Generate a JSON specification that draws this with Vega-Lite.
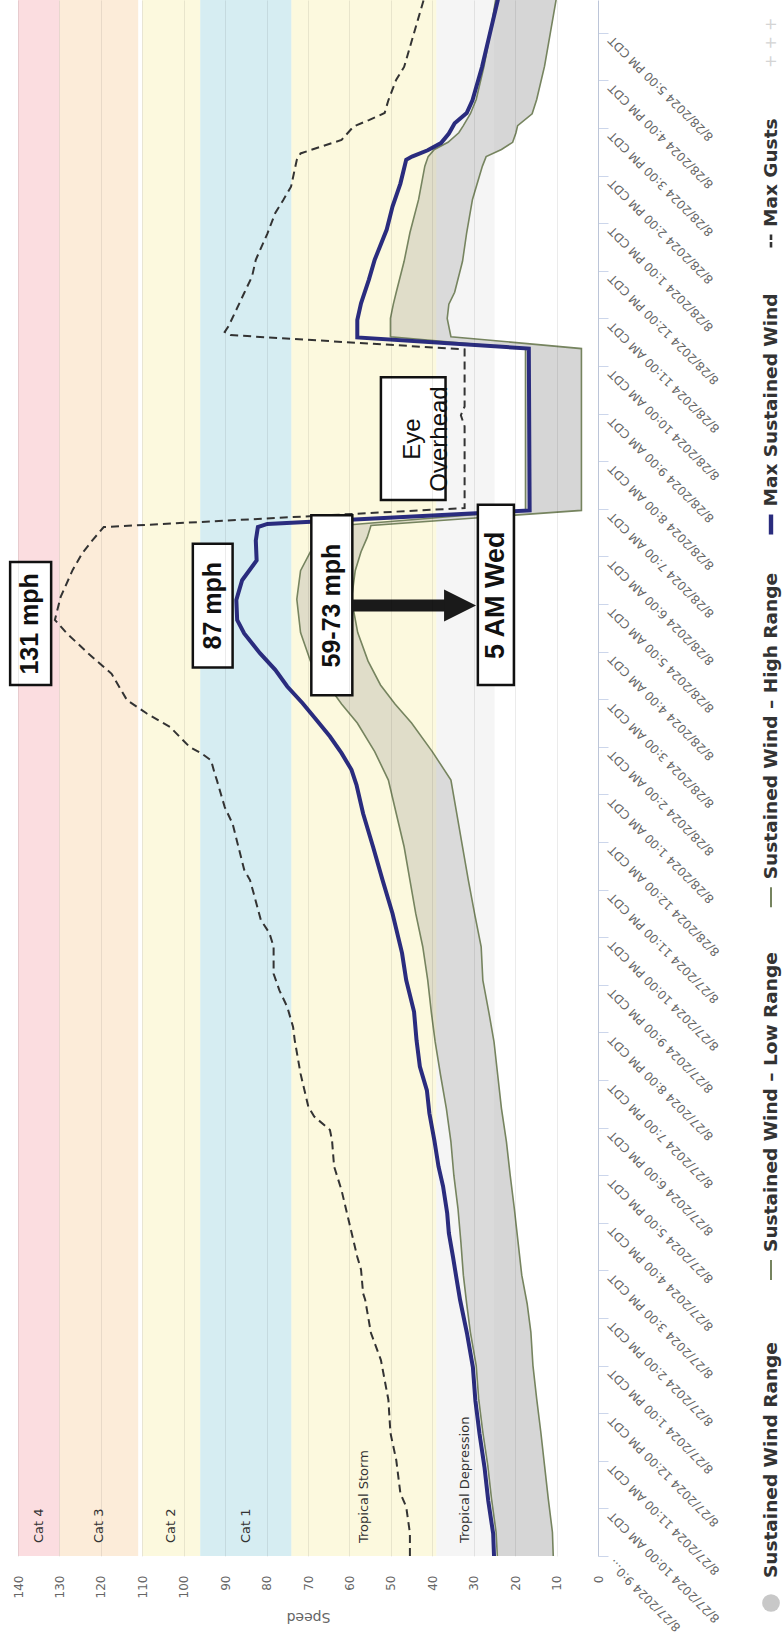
{
  "$schema": "https://vega.github.io/schema/vega-lite/v6.json",
  "width": 580,
  "height": 1556,
  "autosize": {"type": "none"},
  "padding": {"left": 18, "top": 0, "right": 185, "bottom": 79},
  "config": {"view": {"stroke": null}, "axisX": {"tickCount": 28, "labelOverlap": false}},
  "datasets": {
    "bands": [
      {"band": "Cat 4", "lo": 130, "hi": 140},
      {"band": "Cat 3", "lo": 111, "hi": 130},
      {"band": "Cat 2", "lo": 96, "hi": 110},
      {"band": "Cat 1", "lo": 74, "hi": 96},
      {"band": "Tropical Storm", "lo": 39, "hi": 74},
      {"band": "Tropical Depression", "lo": 25, "hi": 39}
    ],
    "navy": [
      {"t": "2024-08-27T09:00-05:00", "v": 25.1}, {"t": "2024-08-27T09:28-05:00", "v": 25.3},
      {"t": "2024-08-27T10:10-05:00", "v": 26.5}, {"t": "2024-08-27T10:52-05:00", "v": 27.4},
      {"t": "2024-08-27T11:34-05:00", "v": 28.6}, {"t": "2024-08-27T12:16-05:00", "v": 29.6},
      {"t": "2024-08-27T12:58-05:00", "v": 30.2}, {"t": "2024-08-27T13:40-05:00", "v": 31.6},
      {"t": "2024-08-27T14:23-05:00", "v": 33.3}, {"t": "2024-08-27T14:48-05:00", "v": 34.1},
      {"t": "2024-08-27T15:17-05:00", "v": 35.0}, {"t": "2024-08-27T15:47-05:00", "v": 36.0},
      {"t": "2024-08-27T16:12-05:00", "v": 36.4}, {"t": "2024-08-27T16:46-05:00", "v": 37.4},
      {"t": "2024-08-27T17:11-05:00", "v": 38.5}, {"t": "2024-08-27T17:44-05:00", "v": 39.5},
      {"t": "2024-08-27T18:18-05:00", "v": 40.7}, {"t": "2024-08-27T18:47-05:00", "v": 41.3},
      {"t": "2024-08-27T19:17-05:00", "v": 43.0}, {"t": "2024-08-27T19:50-05:00", "v": 43.8},
      {"t": "2024-08-27T20:26-05:00", "v": 44.4}, {"t": "2024-08-27T21:06-05:00", "v": 46.3},
      {"t": "2024-08-27T21:40-05:00", "v": 47.3}, {"t": "2024-08-27T22:30-05:00", "v": 49.6},
      {"t": "2024-08-27T23:12-05:00", "v": 52.0}, {"t": "2024-08-27T23:54-05:00", "v": 54.3},
      {"t": "2024-08-28T00:36-05:00", "v": 56.7}, {"t": "2024-08-28T01:12-05:00", "v": 58.3},
      {"t": "2024-08-28T01:31-05:00", "v": 59.5}, {"t": "2024-08-28T01:52-05:00", "v": 61.9},
      {"t": "2024-08-28T02:13-05:00", "v": 64.7}, {"t": "2024-08-28T02:34-05:00", "v": 68.0},
      {"t": "2024-08-28T02:55-05:00", "v": 71.3}, {"t": "2024-08-28T03:16-05:00", "v": 75.0},
      {"t": "2024-08-28T03:37-05:00", "v": 77.9}, {"t": "2024-08-28T03:58-05:00", "v": 81.6},
      {"t": "2024-08-28T04:23-05:00", "v": 85.4}, {"t": "2024-08-28T04:40-05:00", "v": 87.1},
      {"t": "2024-08-28T05:05-05:00", "v": 87.3}, {"t": "2024-08-28T05:30-05:00", "v": 85.9},
      {"t": "2024-08-28T05:55-05:00", "v": 82.4}, {"t": "2024-08-28T06:20-05:00", "v": 82.6},
      {"t": "2024-08-28T06:37-05:00", "v": 82.1}, {"t": "2024-08-28T06:41-05:00", "v": 79.8},
      {"t": "2024-08-28T06:58-05:00", "v": 16.5}, {"t": "2024-08-28T10:22-05:00", "v": 16.7},
      {"t": "2024-08-28T10:36-05:00", "v": 58.1}, {"t": "2024-08-28T10:58-05:00", "v": 58.1},
      {"t": "2024-08-28T11:19-05:00", "v": 57.2}, {"t": "2024-08-28T11:49-05:00", "v": 55.3},
      {"t": "2024-08-28T12:14-05:00", "v": 53.9}, {"t": "2024-08-28T12:52-05:00", "v": 51.0},
      {"t": "2024-08-28T13:21-05:00", "v": 49.6}, {"t": "2024-08-28T13:50-05:00", "v": 47.7},
      {"t": "2024-08-28T14:20-05:00", "v": 46.3}, {"t": "2024-08-28T14:24-05:00", "v": 44.9},
      {"t": "2024-08-28T14:32-05:00", "v": 41.1}, {"t": "2024-08-28T14:41-05:00", "v": 37.9},
      {"t": "2024-08-28T14:53-05:00", "v": 36.0}, {"t": "2024-08-28T15:06-05:00", "v": 34.6},
      {"t": "2024-08-28T15:19-05:00", "v": 31.7}, {"t": "2024-08-28T15:35-05:00", "v": 30.3},
      {"t": "2024-08-28T16:17-05:00", "v": 28.0}, {"t": "2024-08-28T16:59-05:00", "v": 26.1},
      {"t": "2024-08-28T17:41-05:00", "v": 24.2}, {"t": "2024-08-28T18:30-05:00", "v": 22.5}
    ],
    "gust": [
      {"t": "2024-08-27T09:00-05:00", "v": 45.4}, {"t": "2024-08-27T09:29-05:00", "v": 45.4},
      {"t": "2024-08-27T10:02-05:00", "v": 46.3}, {"t": "2024-08-27T10:19-05:00", "v": 47.7},
      {"t": "2024-08-27T11:01-05:00", "v": 48.7}, {"t": "2024-08-27T11:35-05:00", "v": 50.1},
      {"t": "2024-08-27T12:17-05:00", "v": 50.6}, {"t": "2024-08-27T13:07-05:00", "v": 52.4},
      {"t": "2024-08-27T13:41-05:00", "v": 54.8}, {"t": "2024-08-27T14:23-05:00", "v": 56.2},
      {"t": "2024-08-27T14:31-05:00", "v": 56.7}, {"t": "2024-08-27T15:01-05:00", "v": 57.2},
      {"t": "2024-08-27T15:17-05:00", "v": 58.1}, {"t": "2024-08-27T15:59-05:00", "v": 60.0},
      {"t": "2024-08-27T16:41-05:00", "v": 61.9}, {"t": "2024-08-27T17:11-05:00", "v": 63.7},
      {"t": "2024-08-27T17:44-05:00", "v": 64.2}, {"t": "2024-08-27T17:57-05:00", "v": 64.7},
      {"t": "2024-08-27T18:14-05:00", "v": 68.5}, {"t": "2024-08-27T18:26-05:00", "v": 69.9},
      {"t": "2024-08-27T19:08-05:00", "v": 71.8}, {"t": "2024-08-27T19:50-05:00", "v": 73.2},
      {"t": "2024-08-27T20:07-05:00", "v": 73.6}, {"t": "2024-08-27T20:32-05:00", "v": 75.0},
      {"t": "2024-08-27T20:53-05:00", "v": 76.9}, {"t": "2024-08-27T21:14-05:00", "v": 78.3},
      {"t": "2024-08-27T21:48-05:00", "v": 78.3}, {"t": "2024-08-27T22:05-05:00", "v": 79.3},
      {"t": "2024-08-27T22:22-05:00", "v": 81.4}, {"t": "2024-08-27T22:55-05:00", "v": 83.1},
      {"t": "2024-08-27T23:12-05:00", "v": 84.0}, {"t": "2024-08-27T23:25-05:00", "v": 85.4},
      {"t": "2024-08-27T23:54-05:00", "v": 86.8}, {"t": "2024-08-28T00:23-05:00", "v": 88.2},
      {"t": "2024-08-28T00:44-05:00", "v": 90.1}, {"t": "2024-08-28T01:18-05:00", "v": 92.0},
      {"t": "2024-08-28T01:26-05:00", "v": 92.5}, {"t": "2024-08-28T01:43-05:00", "v": 93.4},
      {"t": "2024-08-28T01:52-05:00", "v": 95.8}, {"t": "2024-08-28T02:00-05:00", "v": 98.6},
      {"t": "2024-08-28T02:25-05:00", "v": 103.3}, {"t": "2024-08-28T02:42-05:00", "v": 108.9},
      {"t": "2024-08-28T02:59-05:00", "v": 113.7}, {"t": "2024-08-28T03:32-05:00", "v": 117.4},
      {"t": "2024-08-28T03:58-05:00", "v": 123.1}, {"t": "2024-08-28T04:23-05:00", "v": 128.2},
      {"t": "2024-08-28T04:40-05:00", "v": 131.1}, {"t": "2024-08-28T05:09-05:00", "v": 129.7},
      {"t": "2024-08-28T05:43-05:00", "v": 126.8}, {"t": "2024-08-28T06:04-05:00", "v": 124.5},
      {"t": "2024-08-28T06:20-05:00", "v": 122.1}, {"t": "2024-08-28T06:37-05:00", "v": 119.3},
      {"t": "2024-08-28T07:01-05:00", "v": 32.2}, {"t": "2024-08-28T08:44-05:00", "v": 32.2},
      {"t": "2024-08-28T08:58-05:00", "v": 33.1}, {"t": "2024-08-28T09:09-05:00", "v": 32.2},
      {"t": "2024-08-28T10:21-05:00", "v": 32.2}, {"t": "2024-08-28T10:39-05:00", "v": 88.7},
      {"t": "2024-08-28T10:43-05:00", "v": 90.1}, {"t": "2024-08-28T10:50-05:00", "v": 89.2},
      {"t": "2024-08-28T11:11-05:00", "v": 87.3}, {"t": "2024-08-28T11:32-05:00", "v": 85.4},
      {"t": "2024-08-28T11:53-05:00", "v": 83.5}, {"t": "2024-08-28T12:14-05:00", "v": 82.6},
      {"t": "2024-08-28T12:47-05:00", "v": 79.8}, {"t": "2024-08-28T13:13-05:00", "v": 77.9},
      {"t": "2024-08-28T13:29-05:00", "v": 76.0}, {"t": "2024-08-28T13:46-05:00", "v": 74.1},
      {"t": "2024-08-28T14:20-05:00", "v": 72.7}, {"t": "2024-08-28T14:28-05:00", "v": 71.8},
      {"t": "2024-08-28T14:37-05:00", "v": 66.6}, {"t": "2024-08-28T14:45-05:00", "v": 61.9},
      {"t": "2024-08-28T15:02-05:00", "v": 59.0}, {"t": "2024-08-28T15:10-05:00", "v": 55.3},
      {"t": "2024-08-28T15:19-05:00", "v": 51.5}, {"t": "2024-08-28T15:35-05:00", "v": 50.6},
      {"t": "2024-08-28T16:01-05:00", "v": 48.7}, {"t": "2024-08-28T16:17-05:00", "v": 46.8},
      {"t": "2024-08-28T16:51-05:00", "v": 44.9}, {"t": "2024-08-28T17:16-05:00", "v": 43.5},
      {"t": "2024-08-28T17:41-05:00", "v": 42.1}, {"t": "2024-08-28T18:30-05:00", "v": 40.5}
    ],
    "range": [
      {"t": "2024-08-27T09:00-05:00", "hi": 24.3, "lo": 10.8}, {"t": "2024-08-27T09:30-05:00", "hi": 24.6, "lo": 11.0},
      {"t": "2024-08-27T10:12-05:00", "hi": 25.7, "lo": 12.0}, {"t": "2024-08-27T10:54-05:00", "hi": 26.6, "lo": 12.9},
      {"t": "2024-08-27T11:36-05:00", "hi": 27.8, "lo": 13.8}, {"t": "2024-08-27T12:18-05:00", "hi": 28.8, "lo": 14.8},
      {"t": "2024-08-27T13:00-05:00", "hi": 29.4, "lo": 15.7}, {"t": "2024-08-27T13:42-05:00", "hi": 30.8, "lo": 16.2},
      {"t": "2024-08-27T14:18-05:00", "hi": 31.7, "lo": 17.1}, {"t": "2024-08-27T14:54-05:00", "hi": 32.5, "lo": 18.4},
      {"t": "2024-08-27T15:36-05:00", "hi": 33.1, "lo": 19.3}, {"t": "2024-08-27T16:18-05:00", "hi": 33.8, "lo": 20.2},
      {"t": "2024-08-27T17:00-05:00", "hi": 34.8, "lo": 21.2}, {"t": "2024-08-27T17:42-05:00", "hi": 35.5, "lo": 22.1},
      {"t": "2024-08-27T18:24-05:00", "hi": 36.6, "lo": 23.3}, {"t": "2024-08-27T19:06-05:00", "hi": 38.0, "lo": 24.2},
      {"t": "2024-08-27T19:48-05:00", "hi": 39.3, "lo": 25.1}, {"t": "2024-08-27T20:24-05:00", "hi": 40.2, "lo": 26.3},
      {"t": "2024-08-27T21:06-05:00", "hi": 41.1, "lo": 27.8}, {"t": "2024-08-27T21:48-05:00", "hi": 42.3, "lo": 28.2},
      {"t": "2024-08-27T22:30-05:00", "hi": 44.0, "lo": 29.8}, {"t": "2024-08-27T23:12-05:00", "hi": 45.4, "lo": 31.3},
      {"t": "2024-08-27T23:54-05:00", "hi": 46.8, "lo": 32.7}, {"t": "2024-08-28T00:36-05:00", "hi": 48.7, "lo": 34.1},
      {"t": "2024-08-28T01:18-05:00", "hi": 50.6, "lo": 35.5}, {"t": "2024-08-28T01:54-05:00", "hi": 53.9, "lo": 40.0},
      {"t": "2024-08-28T02:30-05:00", "hi": 58.1, "lo": 45.0}, {"t": "2024-08-28T02:54-05:00", "hi": 61.9, "lo": 49.0},
      {"t": "2024-08-28T03:18-05:00", "hi": 65.2, "lo": 52.5}, {"t": "2024-08-28T03:48-05:00", "hi": 69.4, "lo": 55.5},
      {"t": "2024-08-28T04:24-05:00", "hi": 71.8, "lo": 58.0}, {"t": "2024-08-28T05:06-05:00", "hi": 72.7, "lo": 59.5},
      {"t": "2024-08-28T05:42-05:00", "hi": 71.8, "lo": 58.6}, {"t": "2024-08-28T06:06-05:00", "hi": 69.4, "lo": 57.2},
      {"t": "2024-08-28T06:24-05:00", "hi": 66.5, "lo": 55.7}, {"t": "2024-08-28T06:39-05:00", "hi": 62.0, "lo": 54.8},
      {"t": "2024-08-28T06:58-05:00", "hi": 17.5, "lo": 4.0}, {"t": "2024-08-28T10:22-05:00", "hi": 17.5, "lo": 4.0},
      {"t": "2024-08-28T10:37-05:00", "hi": 50.1, "lo": 35.5}, {"t": "2024-08-28T11:00-05:00", "hi": 50.1, "lo": 36.4},
      {"t": "2024-08-28T11:18-05:00", "hi": 49.4, "lo": 36.0}, {"t": "2024-08-28T11:33-05:00", "hi": 48.7, "lo": 34.6},
      {"t": "2024-08-28T12:12-05:00", "hi": 46.8, "lo": 32.7}, {"t": "2024-08-28T12:48-05:00", "hi": 45.4, "lo": 31.7},
      {"t": "2024-08-28T13:30-05:00", "hi": 43.3, "lo": 30.3}, {"t": "2024-08-28T14:12-05:00", "hi": 41.8, "lo": 27.9},
      {"t": "2024-08-28T14:24-05:00", "hi": 41.0, "lo": 27.0}, {"t": "2024-08-28T14:33-05:00", "hi": 39.5, "lo": 23.3},
      {"t": "2024-08-28T14:42-05:00", "hi": 36.2, "lo": 20.6}, {"t": "2024-08-28T14:54-05:00", "hi": 33.6, "lo": 19.8},
      {"t": "2024-08-28T15:03-05:00", "hi": 32.5, "lo": 19.4}, {"t": "2024-08-28T15:18-05:00", "hi": 30.8, "lo": 15.9},
      {"t": "2024-08-28T15:36-05:00", "hi": 29.4, "lo": 14.8}, {"t": "2024-08-28T16:18-05:00", "hi": 27.5, "lo": 12.9},
      {"t": "2024-08-28T17:00-05:00", "hi": 26.0, "lo": 11.5}, {"t": "2024-08-28T17:42-05:00", "hi": 24.7, "lo": 10.1},
      {"t": "2024-08-28T18:30-05:00", "hi": 23.0, "lo": 9.0}
    ],
    "notes": [
      {"label": "131 mph", "speed": 137, "t": "2024-08-28T04:35-05:00", "s_lo": 132.0, "s_hi": 141.9, "t_lo": "2024-08-28T03:18-05:00", "t_hi": "2024-08-28T05:53-05:00"},
      {"label": "87 mph", "speed": 93, "t": "2024-08-28T04:58-05:00", "s_lo": 88.2, "s_hi": 97.8, "t_lo": "2024-08-28T03:40-05:00", "t_hi": "2024-08-28T06:16-05:00"},
      {"label": "59-73 mph", "speed": 64.25, "t": "2024-08-28T04:58-05:00", "s_lo": 59.3, "s_hi": 69.2, "t_lo": "2024-08-28T03:05-05:00", "t_hi": "2024-08-28T06:52-05:00"},
      {"label": "5 AM Wed", "speed": 24.65, "t": "2024-08-28T05:11-05:00", "s_lo": 20.3, "s_hi": 29.0, "t_lo": "2024-08-28T03:18-05:00", "t_hi": "2024-08-28T07:05-05:00"},
      {"label": "Eye\nOverhead", "speed": 44.6, "t": "2024-08-28T08:28-05:00", "s_lo": 36.8, "s_hi": 52.4, "t_lo": "2024-08-28T07:11-05:00", "t_hi": "2024-08-28T09:46-05:00"}
    ],
    "arrow": [
      {"from": 59.3, "to": 36.5, "tip": 33.3, "t": "2024-08-28T04:58-05:00"}
    ],
    "legend": [
      {"item": "Max Gusts"},
      {"item": "Max Sustained Wind"},
      {"item": "Sustained Wind – High Range"},
      {"item": "Sustained Wind – Low Range"},
      {"item": "Sustained Wind Range"}
    ]
  },
  "layer": [
    {
      "layer": [
        {
          "data": {"name": "bands"},
          "mark": {"type": "rect", "clip": true},
          "encoding": {
            "x": {"field": "lo", "type": "quantitative", "title": "Speed",
              "scale": {"domain": [0, 140], "reverse": true, "nice": false, "zero": false},
              "axis": {"values": [0,5,10,15,20,25,30,35,40,45,50,55,60,65,70,75,80,85,90,95,100,105,110,115,120,125,130,135,140],
                "tickCount": 28,
                "orient": "bottom", "labelAngle": 270, "labelAlign": "right", "labelBaseline": "middle", "labelPadding": 19,
                "ticks": false, "domain": false, "grid": true, "gridColor": "#000000", "gridOpacity": 0.08,
                "labelFont": "DejaVu Sans", "labelFontSize": 12, "labelColor": "#666666", "labelOverlap": false,
                "titleAngle": 180, "titleFont": "DejaVu Sans", "titleFontSize": 14, "titleFontWeight": "normal",
                "titleColor": "#666666", "titlePadding": 26, "zindex": 1}},
            "x2": {"field": "hi"},
            "color": {"field": "band", "type": "nominal", "legend": null,
              "scale": {"domain": ["Cat 4", "Cat 3", "Cat 2", "Cat 1", "Tropical Storm", "Tropical Depression"],
                "range": ["#fbdde0", "#fdecd9", "#fcf9df", "#d6edf2", "#fcf9df", "#f5f5f5"]}}
          }
        },
        {
          "data": {"name": "range"},
          "mark": {"type": "area", "orient": "horizontal", "clip": true, "color": "#8a8a8a", "opacity": 0.35},
          "encoding": {
            "y": {"field": "t", "type": "temporal"},
            "x": {"field": "lo", "type": "quantitative"},
            "x2": {"field": "hi"}
          }
        },
        {
          "data": {"name": "bands"},
          "mark": {"type": "rect", "clip": true, "opacity": 0.3},
          "encoding": {
            "x": {"field": "lo", "type": "quantitative"},
            "x2": {"field": "hi"},
            "color": {"field": "band", "type": "nominal", "legend": null}
          }
        },
        {
          "data": {"name": "bands"},
          "transform": [{"calculate": "(datum.lo + datum.hi) / 2", "as": "mid"}],
          "mark": {"type": "text", "angle": 270, "align": "left", "baseline": "middle", "font": "DejaVu Sans", "fontSize": 13, "color": "#333333"},
          "encoding": {
            "x": {"field": "mid", "type": "quantitative"},
            "y": {"datum": 1724768183000, "type": "temporal"},
            "text": {"field": "band"}
          }
        },
        {
          "data": {"name": "range"},
          "mark": {"type": "line", "clip": true, "color": "#76845f", "strokeWidth": 1.6},
          "encoding": {
            "y": {"field": "t", "type": "temporal"},
            "x": {"field": "lo", "type": "quantitative"},
            "order": {"field": "t", "type": "temporal"}
          }
        },
        {
          "data": {"name": "range"},
          "mark": {"type": "line", "clip": true, "color": "#76845f", "strokeWidth": 1.6},
          "encoding": {
            "y": {"field": "t", "type": "temporal"},
            "x": {"field": "hi", "type": "quantitative"},
            "order": {"field": "t", "type": "temporal"}
          }
        },
        {
          "data": {"name": "gust"},
          "mark": {"type": "line", "clip": true, "color": "#333333", "strokeWidth": 2, "strokeDash": [8, 5]},
          "encoding": {
            "y": {"field": "t", "type": "temporal"},
            "x": {"field": "v", "type": "quantitative"},
            "order": {"field": "t", "type": "temporal"}
          }
        },
        {
          "data": {"name": "navy"},
          "mark": {"type": "line", "clip": true, "color": "#2a2c7e", "strokeWidth": 4},
          "encoding": {
            "y": {"field": "t", "type": "temporal", "title": null,
              "scale": {"type": "utc", "nice": false, "domain": [1724767200000, 1724884884000]},
              "axis": {"orient": "right", "grid": false,
                "labelExpr": "utcFormat(datum.value - 18000000, '%d%H') == '2709' ? '8/27/2024 9:0...' : utcFormat(datum.value - 18000000, '%-m/%-d/%Y %-I:%M %p') + ' CDT'",
                "labelAngle": 225, "labelAlign": "right", "labelBaseline": "middle", "labelOverlap": false, "labelFlush": false,
                "labelPadding": 2, "labelOffset": 5, "labelFont": "DejaVu Sans", "labelFontSize": 12, "labelColor": "#666666",
                "tickSize": 10, "tickColor": "#ccd6eb", "domainColor": "#ccd6eb"}},
            "x": {"field": "v", "type": "quantitative", "title": "Speed",
              "axis": {"values": [0,5,10,15,20,25,30,35,40,45,50,55,60,65,70,75,80,85,90,95,100,105,110,115,120,125,130,135,140],
                "tickCount": 28,
                "orient": "bottom", "labelAngle": 270, "labelAlign": "right", "labelBaseline": "middle", "labelPadding": 19,
                "ticks": false, "domain": false, "grid": true, "gridColor": "#000000", "gridOpacity": 0.08,
                "labelFont": "DejaVu Sans", "labelFontSize": 12, "labelColor": "#666666", "labelOverlap": false,
                "titleAngle": 180, "titleFont": "DejaVu Sans", "titleFontSize": 14, "titleFontWeight": "normal",
                "titleColor": "#666666", "titlePadding": 26, "zindex": 1}},
            "order": {"field": "t", "type": "temporal"}
          }
        },
        {
          "data": {"name": "notes"},
          "mark": {"type": "rect", "fill": "#ffffff", "stroke": "#111111", "strokeWidth": 2.5},
          "encoding": {
            "x": {"field": "s_lo", "type": "quantitative"}, "x2": {"field": "s_hi"},
            "y": {"field": "t_lo", "type": "temporal"}, "y2": {"field": "t_hi"}
          }
        },
        {
          "data": {"name": "notes"},
          "transform": [{"filter": "indexof(datum.label, 'Eye') < 0"}],
          "mark": {"type": "text", "angle": 270, "align": "center", "baseline": "middle", "font": "Liberation Sans", "fontWeight": "bold", "color": "#111111"},
          "encoding": {
            "x": {"field": "speed", "type": "quantitative"},
            "y": {"field": "t", "type": "temporal"},
            "text": {"field": "label"},
            "size": {"condition": {"test": "datum.label === '5 AM Wed'", "value": 27}, "value": 25}
          }
        },
        {
          "data": {"name": "notes"},
          "transform": [{"filter": "indexof(datum.label, 'Eye') >= 0"}],
          "mark": {"type": "text", "angle": 270, "align": "center", "baseline": "middle", "lineBreak": "\n", "font": "Liberation Sans", "fontWeight": "normal", "fontSize": 24, "lineHeight": 27, "color": "#111111"},
          "encoding": {
            "x": {"field": "speed", "type": "quantitative"},
            "y": {"field": "t", "type": "temporal"},
            "text": {"field": "label"}
          }
        },
        {
          "data": {"name": "arrow"},
          "mark": {"type": "rule", "color": "#1a1a1a", "strokeWidth": 12},
          "encoding": {
            "x": {"field": "from", "type": "quantitative"}, "x2": {"field": "to"},
            "y": {"field": "t", "type": "temporal"}
          }
        },
        {
          "data": {"name": "arrow"},
          "mark": {"type": "point", "shape": "M-1,-1L1,0L-1,1Z", "filled": true, "size": 1024, "color": "#1a1a1a", "opacity": 1},
          "encoding": {
            "x": {"field": "tip", "type": "quantitative"},
            "y": {"field": "t", "type": "temporal"}
          }
        }
      ]
    },
    {
      "data": {"name": "legend"},
      "encoding": {
        "x": {"datum": "legend", "type": "nominal", "axis": null, "scale": {"type": "point", "range": [753, 753]}},
        "y": {"field": "item", "type": "nominal", "axis": null,
          "scale": {"type": "point", "padding": 0, "range": [227, 1578],
            "domain": ["Max Gusts", "g1", "g2", "g3", "g4", "g5", "Max Sustained Wind", "g7", "g8", "g9", "g10", "g11", "g12", "g13",
              "Sustained Wind – High Range", "g15", "g16", "g17", "g18", "g19", "g20", "g21", "Sustained Wind – Low Range",
              "g23", "g24", "g25", "g26", "g27", "g28", "Sustained Wind Range"]}}
      },
      "layer": [
        {
          "mark": {"type": "text", "angle": 270, "align": "left", "baseline": "middle", "font": "DejaVu Sans", "fontWeight": "bold", "fontSize": 18.5, "color": "#333333"},
          "encoding": {"text": {"field": "item"}}
        },
        {
          "transform": [{"filter": "datum.item === 'Sustained Wind Range'"}],
          "mark": {"type": "point", "shape": "circle", "filled": true, "size": 314, "color": "#c8c8c8", "opacity": 1, "yOffset": 25},
          "encoding": {}
        },
        {
          "transform": [{"filter": "datum.item === 'Sustained Wind – Low Range' || datum.item === 'Sustained Wind – High Range'"}],
          "mark": {"type": "point", "shape": "M-0.1,-1L0.1,-1L0.1,1L-0.1,1Z", "filled": true, "size": 400, "color": "#76845f", "opacity": 1, "yOffset": 18},
          "encoding": {}
        },
        {
          "transform": [{"filter": "datum.item === 'Max Sustained Wind'"}],
          "mark": {"type": "point", "shape": "M-0.22,-1L0.22,-1L0.22,1L-0.22,1Z", "filled": true, "size": 400, "color": "#2a2c7e", "opacity": 1, "yOffset": 18},
          "encoding": {}
        },
        {
          "transform": [{"filter": "datum.item === 'Max Gusts'"}],
          "mark": {"type": "point", "shape": "M-0.2,-1L0.2,-1L0.2,-0.15L-0.2,-0.15ZM-0.2,0.15L0.2,0.15L0.2,1L-0.2,1Z", "filled": true, "size": 169, "color": "#333333", "opacity": 1, "yOffset": 14},
          "encoding": {}
        },
        {
          "transform": [{"filter": "datum.item === 'Max Gusts'"}],
          "mark": {"type": "text", "angle": 270, "align": "left", "baseline": "middle", "font": "DejaVu Sans", "fontSize": 16, "color": "#d4d4d4", "yOffset": -159},
          "encoding": {"text": {"value": "+  +  +"}}
        }
      ]
    }
  ],
  "resolve": {"scale": {"x": "independent", "y": "independent"}, "axis": {"x": "independent", "y": "independent"}}
}
